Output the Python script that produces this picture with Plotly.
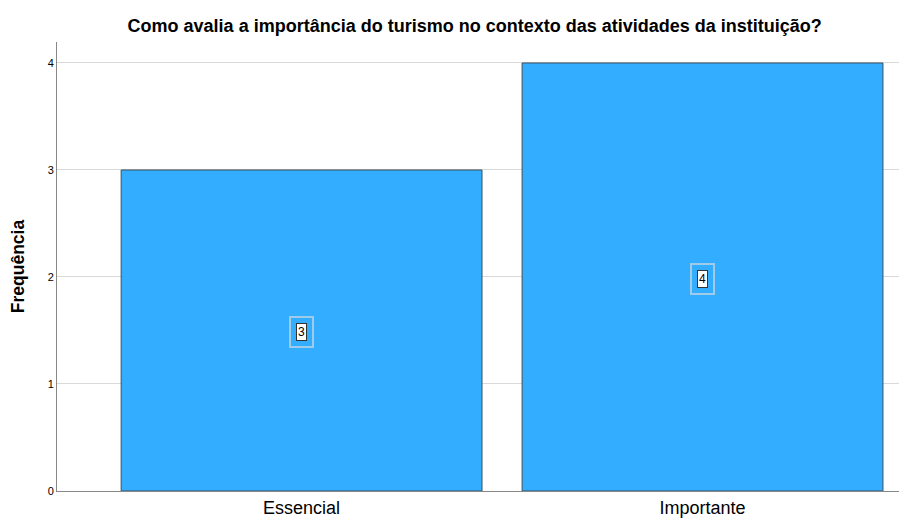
import plotly.graph_objects as go

categories = ["Essencial", "Importante"]
values = [3, 4]
y_ticks = [0, 1, 2, 3, 4]

fig = go.Figure()
fig.add_trace(go.Bar(
    x=categories, y=values, width=0.9,
    marker=dict(color="#33adff", line=dict(color="#3d4f5c", width=1)),
    hoverinfo="skip",
))

for c, v in zip(categories, values):
    fig.add_annotation(x=c, y=v / 2, text=str(v), showarrow=False, yshift=-2,
                       font=dict(color="rgba(0,0,0,0)", size=12, family="Liberation Sans"),
                       bordercolor="#9fcbe8", borderwidth=2, borderpad=7,
                       bgcolor="rgba(0,0,0,0)")
    fig.add_annotation(x=c, y=v / 2, text=str(v), showarrow=False, yshift=-2,
                       font=dict(color="black", size=12, family="Liberation Sans"),
                       bordercolor="#333333", borderwidth=1, borderpad=1,
                       bgcolor="white")

fig.update_layout(
    width=899, height=519,
    margin=dict(l=57, r=0, t=42, b=28),
    paper_bgcolor="white", plot_bgcolor="white",
    title=dict(text="<b>Como avalia a importância do turismo no contexto das atividades da instituição?</b>",
               x=0.528, xanchor="center", y=1 - 26 / 519, yanchor="middle",
               font=dict(family="Liberation Sans", size=18, color="black")),
    showlegend=False,
    xaxis=dict(range=[-0.61, 1.49], showgrid=False, showline=True,
               linecolor="#888888", linewidth=1,
               tickfont=dict(family="Liberation Sans", size=18, color="black"),
               ticks="", fixedrange=True),
    yaxis=dict(range=[0, 4.196], tickvals=y_ticks, showgrid=True,
               gridcolor="#d9d9d9", gridwidth=1, showline=True,
               linecolor="#888888", linewidth=1, zeroline=False,
               ticks="", ticklen=0, fixedrange=True,
               tickfont=dict(family="Liberation Sans", size=11, color="black"),
               title=dict(text="<b>Frequência</b>", standoff=18,
                          font=dict(family="Liberation Sans", size=17.5, color="black"))),
)

fig.write_html("out.html",
               config={"displayModeBar": False},
               post_script="document.body.style.margin='0';document.body.style.overflow='hidden';")
